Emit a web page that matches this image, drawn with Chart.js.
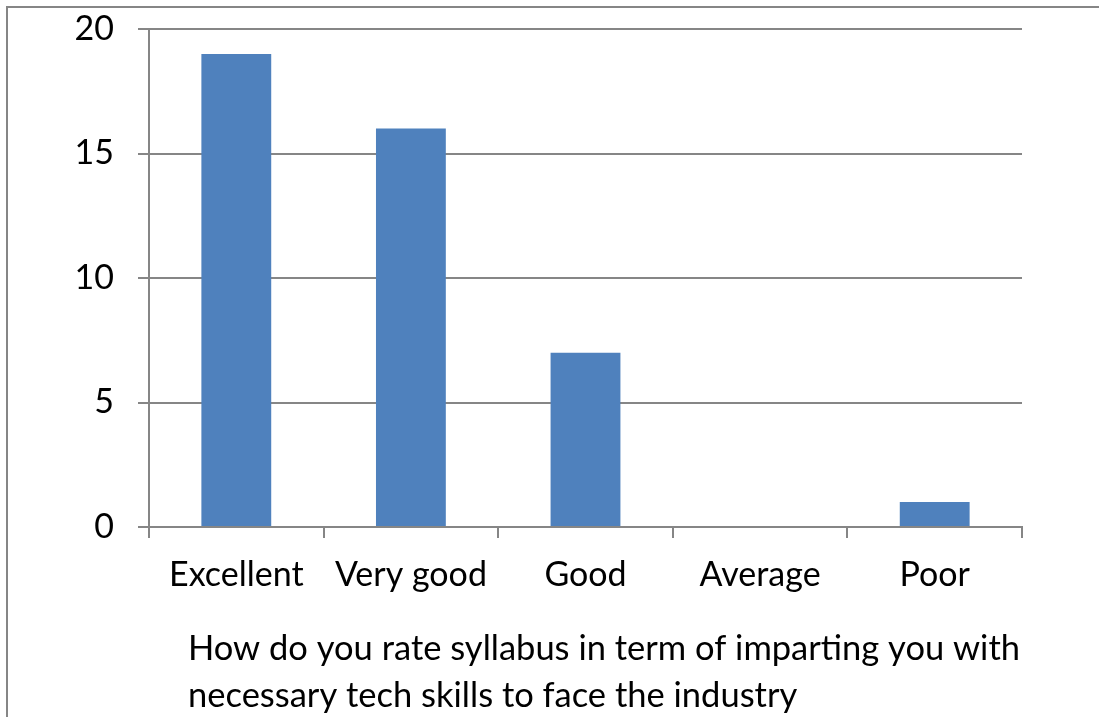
<!DOCTYPE html>
<html>
<head>
<meta charset="utf-8">
<script src="https://cdn.jsdelivr.net/npm/chart.js@4"></script>
<style>
  html, body { margin: 0; padding: 0; background: #fff; }
  #wrap { position: relative; width: 1099px; height: 717px; }
  #frame { position: absolute; left: 6px; top: 6px; width: 1093px; height: 711px;
           border-top: 2px solid #868686; border-left: 2px solid #868686; box-sizing: border-box; pointer-events: none; }
  canvas { position: absolute; left: 0; top: 0; }
</style>
</head>
<body>
<div id="wrap">
  <canvas id="c" width="1099" height="717"></canvas>
  <div id="frame"></div>
</div>
<script>
const categories = ["Excellent", "Very good", "Good", "Average", "Poor"];
const values = [19, 16, 7, 0, 1];
const yTicks = [0, 5, 10, 15, 20];
const axisTitleLines = [
  "How do you rate syllabus in term of imparting you with",
  "necessary tech skills to face the industry"
];

const FONT = "Lato, 'Open Sans', sans-serif";
const GRID = "#868686";

const titlePlugin = {
  id: 'bottomTitle',
  afterDraw(chart) {
    const ctx = chart.ctx;
    ctx.save();
    ctx.font = "34.5px " + FONT;
    ctx.fillStyle = "#000";
    ctx.textAlign = "left";
    ctx.textBaseline = "middle";
    const x = chart.chartArea.left + 39;
    axisTitleLines.forEach((line, i) => {
      ctx.fillText(line, x, chart.chartArea.bottom + 122 + i * 47);
    });
    ctx.restore();
  }
};

new Chart(document.getElementById('c'), {
  type: 'bar',
  data: {
    labels: categories,
    datasets: [{
      data: values,
      backgroundColor: '#4F81BD',
      borderWidth: 0,
      barPercentage: 0.4,
      categoryPercentage: 1.0
    }]
  },
  options: {
    responsive: false,
    animation: false,
    devicePixelRatio: 1,
    layout: { padding: { left: 0, top: 29, right: 77, bottom: 0 } },
    plugins: { legend: { display: false }, tooltip: { enabled: false } },
    scales: {
      x: {
        afterFit(s) { s.height = 190; s.paddingLeft = 0; s.paddingRight = 0; },
        grid: { drawOnChartArea: false, drawTicks: true, tickLength: 11, color: GRID, lineWidth: 2, offset: true },
        border: { color: GRID, width: 2 },
        ticks: { color: '#000', font: { family: FONT, size: 34 }, padding: 17, maxRotation: 0 }
      },
      y: {
        min: 0, max: 20,
        afterFit(s) { s.width = 149; s.paddingTop = 0; s.paddingBottom = 0; },
        afterBuildTicks(s) { s.ticks = yTicks.map(v => ({ value: v })); },
        grid: { color: GRID, lineWidth: 2, tickLength: 11 },
        border: { color: GRID, width: 2 },
        ticks: { color: '#000', font: { family: FONT, size: 34 }, padding: 24 }
      }
    }
  },
  plugins: [titlePlugin]
});
</script>
</body>
</html>
